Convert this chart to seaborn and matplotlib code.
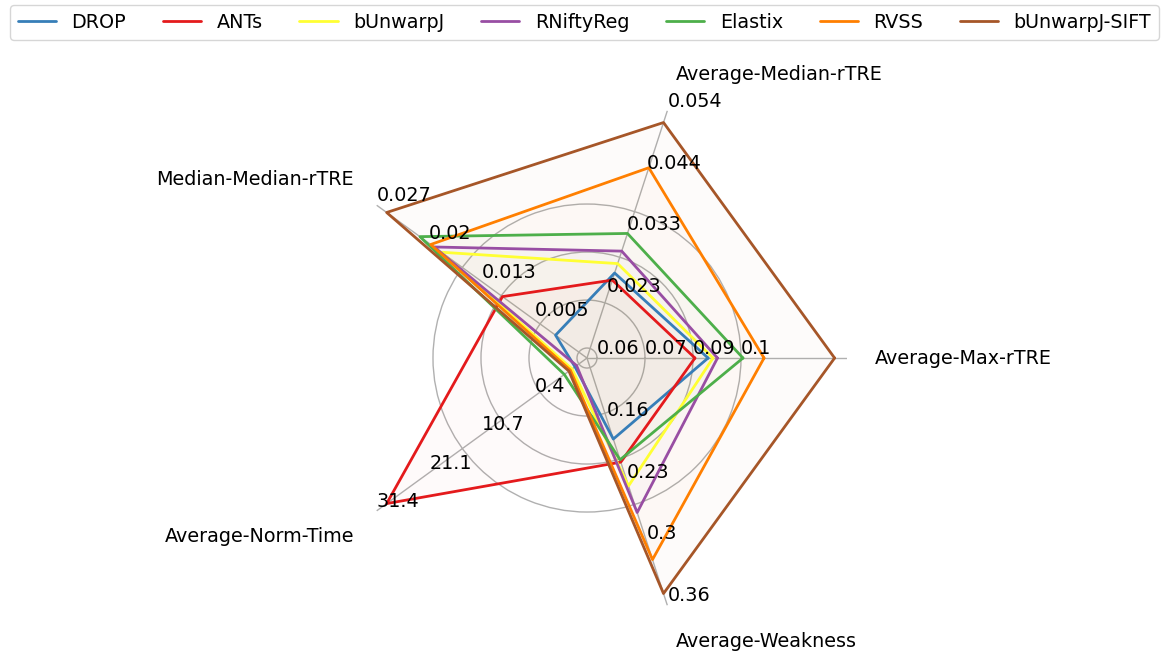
import numpy as np
import matplotlib
matplotlib.use("Agg")
import matplotlib.pyplot as plt
import seaborn as sns

# methods and criteria of the benchmark
methods = ["DROP", "ANTs", "bUnwarpJ", "RNiftyReg", "Elastix", "RVSS", "bUnwarpJ-SIFT"]
criteria = ["Average-Max-rTRE", "Average-Median-rTRE", "Median-Median-rTRE",
            "Average-Norm-Time", "Average-Weakness"]

# scores per criterion, scaled so that the worst method = 1
avg_max_rtre = [0.489, 0.436, 0.509, 0.527, 0.630, 0.715, 1.0]
avg_median_rtre = [0.361, 0.331, 0.401, 0.454, 0.529, 0.808, 1.0]
median_median_rtre = [0.157, 0.422, 0.727, 0.763, 0.834, 0.780, 1.0]
avg_norm_time = [0.060, 1.0, 0.075, 0.052, 0.113, 0.083, 0.090]
avg_weakness = [0.344, 0.442, 0.543, 0.656, 0.432, 0.856, 1.0]

# tick labels shown along each axis
ticks_max_rtre = ["0.06", "0.07", "0.09", "0.1"]
ticks_median_rtre = ["0.023", "0.033", "0.044", "0.054"]
ticks_median_median = ["0.005", "0.013", "0.02", "0.027"]
ticks_norm_time = ["0.4", "10.7", "21.1", "31.4"]
ticks_weakness = ["0.16", "0.23", "0.3", "0.36"]

# --- layout ---
sns.set_style("white")
plt.rcParams["font.family"] = ["DejaVu Sans"]
plt.rcParams["text.color"] = "black"
palette = sns.color_palette("Set1")
colors = [palette[1], palette[0], palette[5], palette[3], palette[2], palette[4], palette[6]]
fs = 13.8

scores = np.array([avg_max_rtre, avg_median_rtre, median_median_rtre,
                   avg_norm_time, avg_weakness]).T
tick_texts = [ticks_max_rtre, ticks_median_rtre, ticks_median_median,
              ticks_norm_time, ticks_weakness]

r_max = 1.05
angles = np.deg2rad(np.arange(0, 360, 360 / len(criteria)))
grid_r = np.array([10, 58, 106, 154]) / 260 * r_max      # circles of the first axis
tick_r_other = np.array([1, 2, 3, 4]) / 4 * r_max

fig = plt.figure(figsize=(11.62, 6.54), dpi=100)
ax = fig.add_axes([0.2814, 0.0550, 0.4475, 0.7951], projection="polar")
ax.set_ylim(0, r_max)
ax.set_thetagrids(np.rad2deg(angles), labels=[""] * len(criteria))
ax.set_rgrids(grid_r, labels=[""] * len(grid_r))
ax.grid(True, color="#b0b0b0", linewidth=1.0)
ax.spines["polar"].set_visible(False)

theta_closed = np.append(angles, angles[0])
for name, col, row in zip(methods, colors, scores):
    r = np.append(row, row[0])
    ax.plot(theta_closed, r, color=col, lw=2, label=name)
    ax.fill(theta_closed, r, color=col, alpha=0.02)

# radial tick labels
for i, (ang, labels) in enumerate(zip(angles, tick_texts)):
    pos = grid_r if i == 0 else tick_r_other
    for rr, txt in zip(pos, labels):
        ax.text(ang, rr, txt, ha="left", va="bottom", fontsize=fs, zorder=5)

# criterion names
for ang, name in zip(angles, criteria):
    c, s = np.cos(ang), np.sin(ang)
    ha = "left" if c > 0.1 else ("right" if c < -0.1 else "center")
    va = "bottom" if s > 0.1 else ("top" if s < -0.1 else "center")
    ax.text(ang, r_max * 288 / 260, name, ha=ha, va=va, fontsize=fs)

fig.legend(loc="upper center", ncol=7, bbox_to_anchor=(0.503, 0.992),
           borderaxespad=0, fontsize=fs, frameon=True, labelcolor="black",
           columnspacing=1.92)

fig.savefig("out.png", dpi=100)
